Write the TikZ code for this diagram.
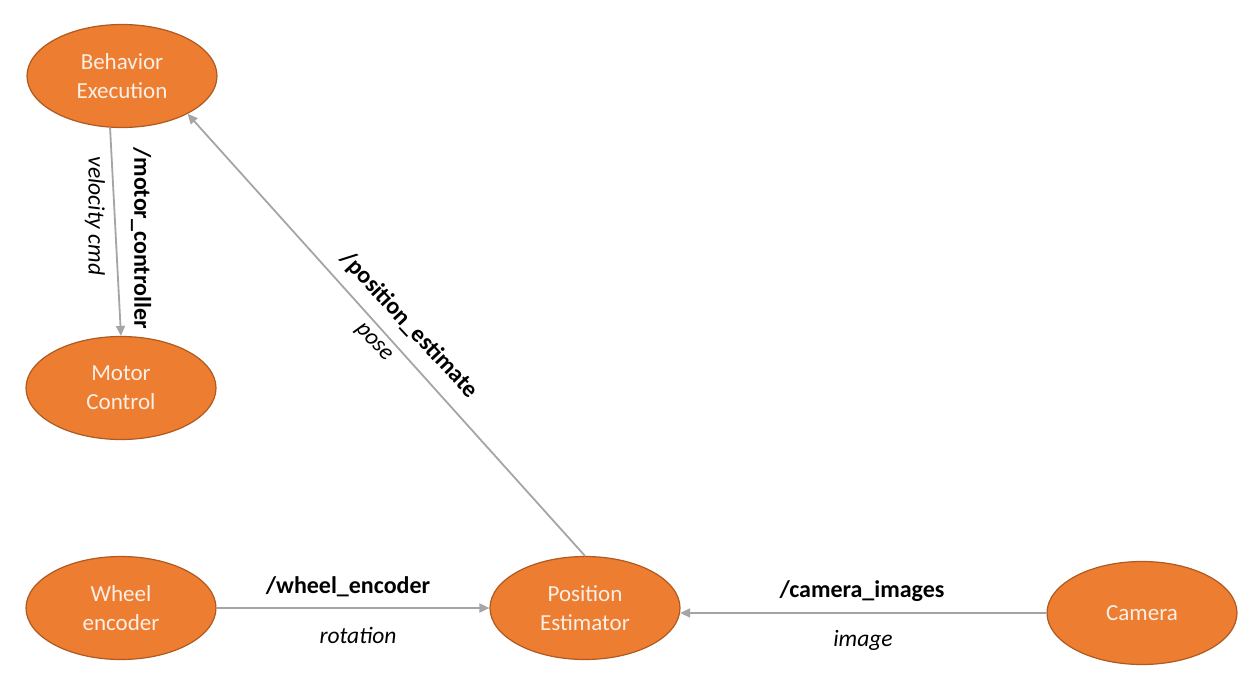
\documentclass[tikz,border=0pt]{standalone}
\usepackage{fontspec}
\setmainfont{Carlito}
\usetikzlibrary{shapes.geometric,arrows.meta}
\definecolor{nodefill}{HTML}{ED7D31}
\definecolor{nodeline}{HTML}{AE5A21}
\definecolor{edgecol}{HTML}{A5A5A5}
\definecolor{nodetext}{HTML}{FBEFE6}
\begin{document}
\begin{tikzpicture}[x=1pt,y=-1pt,
  topic/.style={ellipse,fill=nodefill,draw=nodeline,line width=1.2pt,
    minimum width=190pt,minimum height=103pt,inner sep=0pt,
    text=nodetext,align=center,font=\fontsize{23}{29}\selectfont},
  arr/.style={draw=edgecol,line width=1.8pt,-{Triangle[length=10pt,width=9pt]}},
  tname/.style={font=\fontsize{24}{28}\selectfont\bfseries,inner sep=0pt},
  tdesc/.style={font=\fontsize{23.5}{27}\selectfont\itshape,inner sep=0pt}]
\useasboundingbox (0,0) rectangle (1252,690);
\node[topic] (be) at (122,76) {Behavior\\Execution};
\node[topic] (mc) at (121,388) {Motor\\Control};
\node[topic] (we) at (121,608) {Wheel\\encoder};
\node[topic] (pe) at (585,608) {Position\\Estimator};
\node[topic] (cam) at (1142,613) {Camera};
\draw[arr] (be.257) -- (mc.north);
\draw[arr] (pe.north) -- (be.330);
\draw[arr] (we.east) -- (pe.west);
\draw[arr] (cam.west) -- (pe.-3);
\node[tname,rotate=-90] (l1) at (141,238) {/motor\_controller};
\node[tdesc,rotate=-90] (l2) at (95,216) {velocity cmd};
\node[tname,rotate=-47] (l3) at (409,325) {/position\_estimate};
\node[tdesc,rotate=-47] (l4) at (373,343) {pose};
\node[tname] (l5) at (348,587) {/wheel\_encoder};
\node[tdesc] (l6) at (358,635) {rotation};
\node[tname] (l7) at (862,591) {/camera\_images};
\node[tdesc] (l8) at (863,640) {image};
\end{tikzpicture}
\end{document}
